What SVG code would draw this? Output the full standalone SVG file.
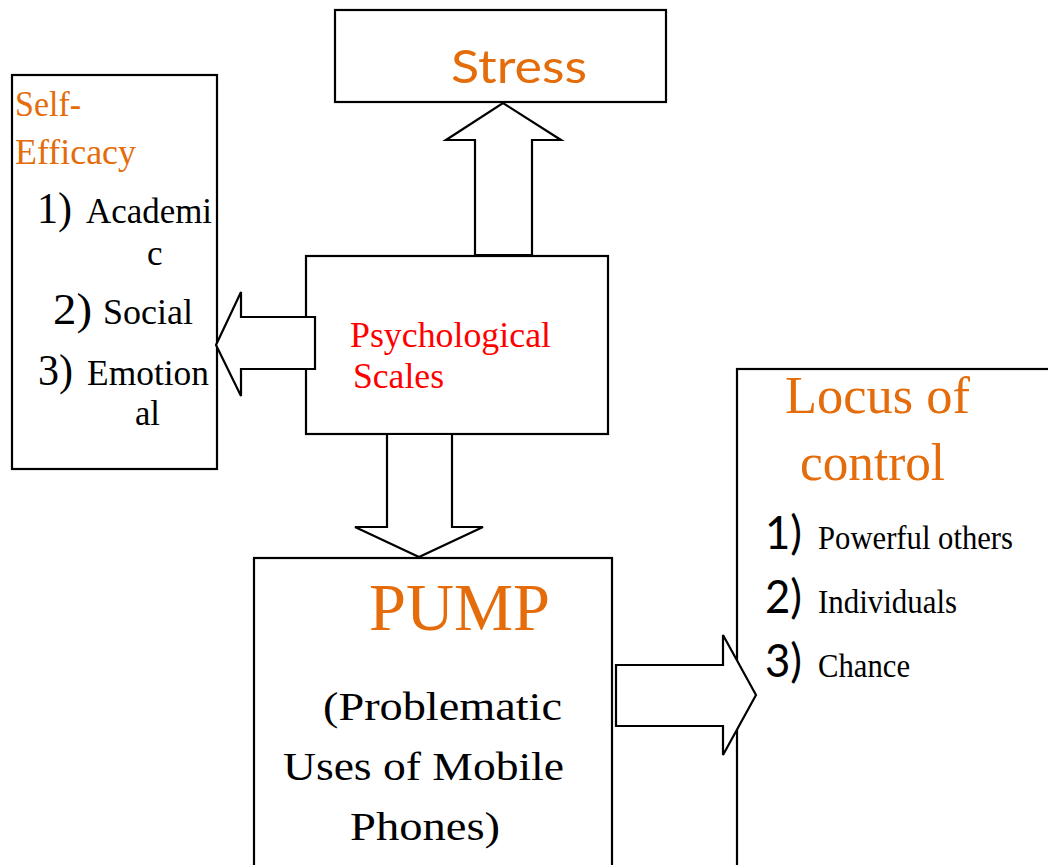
<svg xmlns="http://www.w3.org/2000/svg" width="1048" height="865" viewBox="0 0 1048 865">
<style>
.box{fill:#fff;stroke:#000;stroke-width:2.2}
.arr{fill:#fff;stroke:#000;stroke-width:2.2;stroke-linejoin:miter}
.serif{font-family:"Liberation Serif","Times New Roman",serif}
.sans{font-family:Lato,"Liberation Sans",sans-serif}
.or{fill:#E46C0A}
.red{fill:#FF0000}
.blk{fill:#000}
</style>
<rect width="1048" height="865" fill="#fff"/>
<g id="stress">
<rect class="box" x="335" y="10" width="331" height="92"/>
<text class="sans or" x="451" y="83" font-size="47" textLength="136" lengthAdjust="spacingAndGlyphs">Stress</text>
</g>
<g id="self-efficacy">
<rect class="box" x="12" y="75" width="205" height="394"/>
<text class="serif or" x="15" y="116" font-size="35" textLength="66" lengthAdjust="spacingAndGlyphs">Self-</text>
<text class="serif or" x="15" y="164" font-size="35" textLength="121" lengthAdjust="spacingAndGlyphs">Efficacy</text>
<text class="serif blk" x="37" y="223" font-size="44" textLength="35" lengthAdjust="spacingAndGlyphs">1)</text>
<text class="serif blk" x="86" y="223" font-size="35" textLength="126" lengthAdjust="spacingAndGlyphs">Academi</text>
<text class="serif blk" x="147" y="265" font-size="35">c</text>
<text class="serif blk" x="53" y="324" font-size="44" textLength="39" lengthAdjust="spacingAndGlyphs">2)</text>
<text class="serif blk" x="103" y="324" font-size="35" textLength="90" lengthAdjust="spacingAndGlyphs">Social</text>
<text class="serif blk" x="38" y="385" font-size="44" textLength="35" lengthAdjust="spacingAndGlyphs">3)</text>
<text class="serif blk" x="87" y="385" font-size="35" textLength="122" lengthAdjust="spacingAndGlyphs">Emotion</text>
<text class="serif blk" x="135" y="425" font-size="35" textLength="25" lengthAdjust="spacingAndGlyphs">al</text>
</g>
<g id="psych">
<rect class="box" x="306" y="256" width="302" height="178"/>
<text class="serif red" x="350" y="347" font-size="35" textLength="201" lengthAdjust="spacingAndGlyphs">Psychological</text>
<text class="serif red" x="353" y="388" font-size="35" textLength="91" lengthAdjust="spacingAndGlyphs">Scales</text>
</g>
<g id="pump">
<rect class="box" x="254" y="558" width="358" height="320"/>
<text class="serif or" x="369" y="630" font-size="67" textLength="181" lengthAdjust="spacingAndGlyphs">PUMP</text>
<text class="serif blk" x="323" y="720" font-size="40" textLength="239" lengthAdjust="spacingAndGlyphs">(Problematic</text>
<text class="serif blk" x="283" y="780" font-size="40" textLength="281" lengthAdjust="spacingAndGlyphs">Uses of Mobile</text>
<text class="serif blk" x="350" y="840" font-size="40" textLength="150" lengthAdjust="spacingAndGlyphs">Phones)</text>
</g>
<g id="locus">
<rect class="box" x="737" y="369" width="330" height="510"/>
<text class="serif or" x="785" y="413" font-size="53" textLength="185" lengthAdjust="spacingAndGlyphs">Locus of</text>
<text class="serif or" x="800" y="480" font-size="53" textLength="145" lengthAdjust="spacingAndGlyphs">control</text>
<text class="sans blk" x="765" y="549" font-size="46" textLength="37" lengthAdjust="spacingAndGlyphs">1)</text>
<text class="serif blk" x="818" y="549" font-size="33" textLength="195" lengthAdjust="spacingAndGlyphs">Powerful others</text>
<text class="sans blk" x="765" y="613" font-size="46" textLength="37" lengthAdjust="spacingAndGlyphs">2)</text>
<text class="serif blk" x="818" y="613" font-size="33" textLength="139" lengthAdjust="spacingAndGlyphs">Individuals</text>
<text class="sans blk" x="765" y="677" font-size="46" textLength="37" lengthAdjust="spacingAndGlyphs">3)</text>
<text class="serif blk" x="818" y="677" font-size="33" textLength="92" lengthAdjust="spacingAndGlyphs">Chance</text>
</g>
<g id="connectors">
<polygon class="arr" points="475,255 475,140 446,140 503,103 561,140 532,140 532,255"/>
<polygon class="arr" points="315,317 241,317 241,292 216,345 241,396 241,369 315,369"/>
<polygon class="arr" points="387,434 452,434 452,527 483,527 419,557 355,527 387,527"/>
<polygon class="arr" points="616,665 723,665 723,635 756,695 723,755 723,726 616,726"/>
</g>
</svg>
